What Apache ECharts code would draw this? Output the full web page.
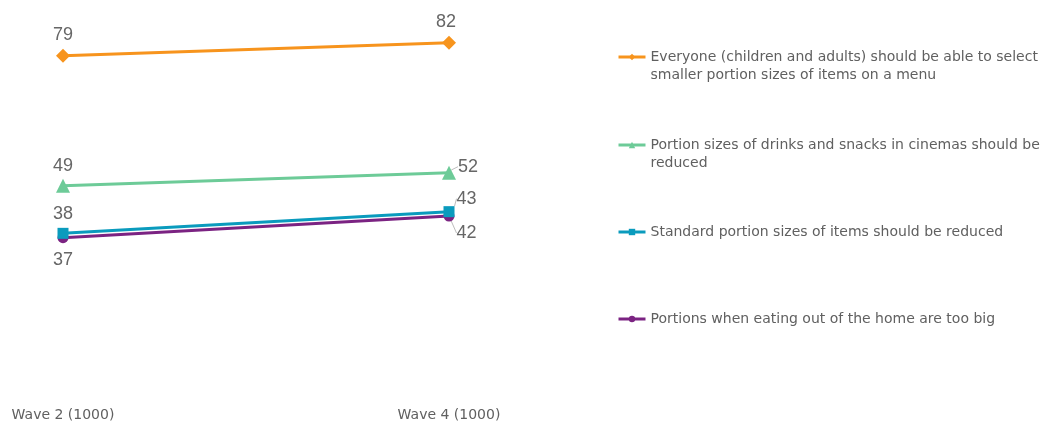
<!DOCTYPE html>
<html>
<head>
<meta charset="utf-8">
<script src="https://cdn.jsdelivr.net/npm/echarts@6/dist/echarts.min.js"></script>
<style>
  html, body { margin: 0; padding: 0; background: #ffffff; }
  #chart { width: 1052px; height: 423px; }
</style>
</head>
<body>
<div id="chart"></div>
<script>
// Survey waves (x categories)
const waves = ['Wave 2 (1000)', 'Wave 4 (1000)'];

// Statements (legend entries)
const statements = [
  'Everyone (children and adults) should be able to select\nsmaller portion sizes of items on a menu',
  'Portion sizes of drinks and snacks in cinemas should be\nreduced',
  'Standard portion sizes of items should be reduced',
  'Portions when eating out of the home are too big'
];

// Percentage agreeing, per statement, per wave
const everyoneSmaller = [79, 82];
const cinemaReduced = [49, 52];
const standardReduced = [38, 43];
const portionsTooBig = [37, 42];

const colors = ['#F7941D', '#6DCB98', '#0A9BBD', '#7B2382'];
const symbols = ['diamond', 'triangle', 'rect', 'circle'];
const symbolSizes = [14, 14, 11, 11];
const values = [everyoneSmaller, cinemaReduced, standardReduced, portionsTooBig];

// label placement per series / point: [position, dx, dy, leader line]
const labelPlacement = [
  [['top', 0, 2, false], ['top', -3, 2, false]],
  [['top', 0, 3, false], ['right', -5, -6, true]],
  [['top', 0, 2, false], ['right', -5, -13, true]],
  [['bottom', 0, 1, false], ['right', -5, 17, true]]
];

const textColor = '#606060';
const uiFont = 'DejaVu Sans, sans-serif';

const series = values.map((vals, si) => ({
  name: statements[si],
  type: 'line',
  data: vals.map((v, di) => ({
    value: v,
    label: { position: labelPlacement[si][di][0] },
    labelLine: { show: labelPlacement[si][di][3] }
  })),
  symbol: symbols[si],
  symbolSize: symbolSizes[si],
  lineStyle: { color: colors[si], width: 3 },
  itemStyle: { color: colors[si] },
  label: {
    show: true,
    color: '#666666',
    fontSize: 18,
    fontFamily: 'Liberation Sans, Arial, sans-serif',
    distance: 7
  },
  labelLine: {
    show: false,
    lineStyle: { color: '#bdbdbd', width: 1 }
  },
  labelLayout: function (params) {
    const p = labelPlacement[si][params.dataIndex];
    return { dx: p[1], dy: p[2] };
  },
  emphasis: { disabled: true },
  z: 10 - si
}));

// one legend block per statement so every entry sits on an even pitch;
// two-line entries get a leading blank line so the key lines up with the first line
const legendIconY = [57, 145, 232, 319];
const legends = statements.map((name, i) => {
  const twoLine = name.indexOf('\n') >= 0;
  return {
    data: [name],
    left: 617,
    top: legendIconY[i] - (twoLine ? 27 : 9),
    orient: 'vertical',
    padding: 0,
    itemWidth: 27,
    itemHeight: 8,
    itemGap: 0,
    selectedMode: false,
    lineStyle: { width: 3 },
    formatter: function (n) { return twoLine ? '\n' + n : n; },
    textStyle: {
      color: textColor,
      fontSize: 14,
      lineHeight: 18,
      fontFamily: uiFont
    }
  };
});

const chart = echarts.init(document.getElementById('chart'), null, { renderer: 'canvas' });
chart.setOption({
  animation: false,
  backgroundColor: '#ffffff',
  legend: legends,
  grid: { left: 63, width: 386, top: 8, bottom: 25, containLabel: false },
  xAxis: {
    type: 'category',
    data: waves,
    boundaryGap: false,
    axisLine: { show: false },
    axisTick: { show: false },
    axisLabel: {
      color: textColor,
      fontSize: 14,
      fontFamily: uiFont,
      margin: 10
    }
  },
  yAxis: {
    type: 'value',
    min: 0,
    max: 90,
    show: false
  },
  series: series
});
</script>
</body>
</html>
